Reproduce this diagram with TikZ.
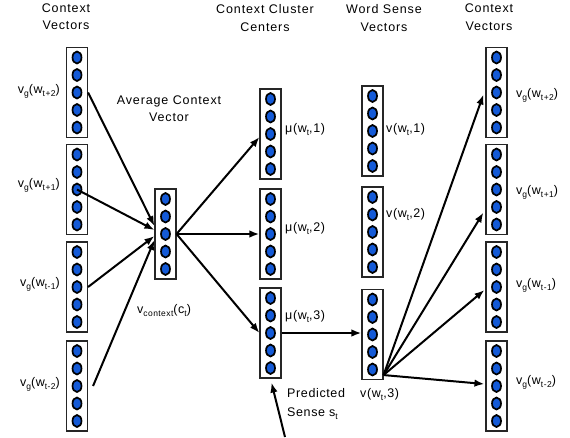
\documentclass[tikz,border=0pt]{standalone}
\usepackage{fontspec}
\setmainfont{Liberation Sans}
\usetikzlibrary{arrows.meta,calc,shapes.geometric}
\definecolor{dotblue}{RGB}{20,90,215}
\newcommand\sbs[1]{\raisebox{-0.5ex}{\fontsize{8.5}{9}\selectfont #1}}
\newcommand\vecbox[3]{%
  \node[vbox] (#1) at (#2,#3) {};
  \foreach \k/\o in {1/-35,2/-17.5,3/0,4/17.5,5/35}{
    \node[vdot] (#1-\k) at ($(#1.center)+(0,\o)$) {};
  }%
}
\begin{document}
\begin{tikzpicture}[x=1pt,y=-1pt,
  vbox/.style={draw=black!85,line width=1.1pt,minimum width=21pt,minimum height=90pt,inner sep=0pt},
  vdot/.style={ellipse,minimum width=9pt,minimum height=12pt,inner sep=0pt,fill=dotblue,draw=black,line width=1.7pt},
  header/.style={font=\fontsize{12.5}{17.5}\selectfont\addfontfeature{LetterSpace=7},align=center,inner sep=0pt,anchor=north},
  lab/.style={font=\fontsize{12.5}{19}\selectfont\addfontfeature{LetterSpace=5},inner sep=0pt},
  arr/.style={-{Latex[length=10pt,width=7.5pt]},line width=2pt}
]
\useasboundingbox (0,0) rectangle (570,437);
\vecbox{L1}{77}{92.5}
\vecbox{L2}{77}{189.5}
\vecbox{L3}{77}{287}
\vecbox{L4}{77}{386}
\vecbox{A}{165.5}{234}
\vecbox{C1}{270.5}{134}
\vecbox{C2}{270.5}{234}
\vecbox{C3}{270.5}{333}
\vecbox{W1}{372.5}{131}
\vecbox{W2}{372.5}{232}
\vecbox{W3}{372.5}{334.5}
\vecbox{R1}{496.5}{92.5}
\vecbox{R2}{496.5}{189.5}
\vecbox{R3}{496.5}{287}
\vecbox{R4}{496.5}{386}
% headers
\node[header] (h1) at (66,3.5) {Context\\Vectors};
\node[header] (h2) at (265,4.5) {Context Cluster\\Centers};
\node[header] (h3) at (384,4.5) {Word Sense\\Vectors};
\node[header] (h4) at (489,4) {Context\\Vectors};
\node[header] (h5) at (169,95.5) {Average Context\\Vector};
% left labels
\node[lab,anchor=base east] (lL1) at (60,93) {v\sbs{g}(w\sbs{t+2})};
\node[lab,anchor=base east] (lL2) at (60,187) {v\sbs{g}(w\sbs{t+1})};
\node[lab,anchor=base east] (lL3) at (60,286) {v\sbs{g}(w\sbs{t-1})};
\node[lab,anchor=base east] (lL4) at (60,386) {v\sbs{g}(w\sbs{t-2})};
% right labels
\node[lab,anchor=base west] (lR1) at (516,97) {v\sbs{g}(w\sbs{t+2})};
\node[lab,anchor=base west] (lR2) at (516,194) {v\sbs{g}(w\sbs{t+1})};
\node[lab,anchor=base west] (lR3) at (516,287) {v\sbs{g}(w\sbs{t-1})};
\node[lab,anchor=base west] (lR4) at (516,384) {v\sbs{g}(w\sbs{t-2})};
% cluster labels
\node[lab,anchor=base west] (lC1) at (285,132) {μ(w\sbs{t},1)};
\node[lab,anchor=base west] (lC2) at (285,231) {μ(w\sbs{t},2)};
\node[lab,anchor=base west] (lC3) at (285,319) {μ(w\sbs{t},3)};
% sense labels
\node[lab,anchor=base west] (lW1) at (386,132) {v(w\sbs{t},1)};
\node[lab,anchor=base west] (lW2) at (386,217) {v(w\sbs{t},2)};
\node[lab,anchor=base west] (lW3) at (360,397) {v(w\sbs{t},3)};
\node[lab,anchor=base west] (lA) at (137,313) {v\sbs{context}(c\sbs{t})};
\node[lab,anchor=north west,align=left] (lP) at (287,388) {Predicted\\Sense s\sbs{t}};
% arrows into average
\draw[arr] (L1.east) -- ($(A.west)+(0,-8)$);
\draw[arr] (L2-3.center) -- ($(A.west)+(0,-4)$);
\draw[arr] (L3.east) -- ($(A.west)+(0,2)$);
\draw[arr] ($(L4.east)+(5,0)$) -- ($(A.west)+(0,6)$);
% arrows to clusters
\draw[arr] (A.east) -- ($(C1.west)+(0,3)$);
\draw[arr] (A.east) -- (C2.west);
\draw[arr] (A.east) -- (C3.west);
\draw[arr] (C3.east) -- (C3.east -| W3.west);
% arrows to context vectors
\coordinate (src) at ($(W3.south east)+(0,-5)$);
\draw[arr] (src) -- ($(R1.west)+(-2,2)$);
\draw[arr] (src) -- ($(R2.west)+(-2,23)$);
\draw[arr] (src) -- ($(R3.west)+(-1,3)$);
\draw[arr] (src) -- ($(R4.west)+(-1,-2)$);
% predicted sense
\coordinate (ps) at (285,437);
\draw[arr] (ps) -- ($(C3.south)+(1,4)$);
\end{tikzpicture}
\end{document}
